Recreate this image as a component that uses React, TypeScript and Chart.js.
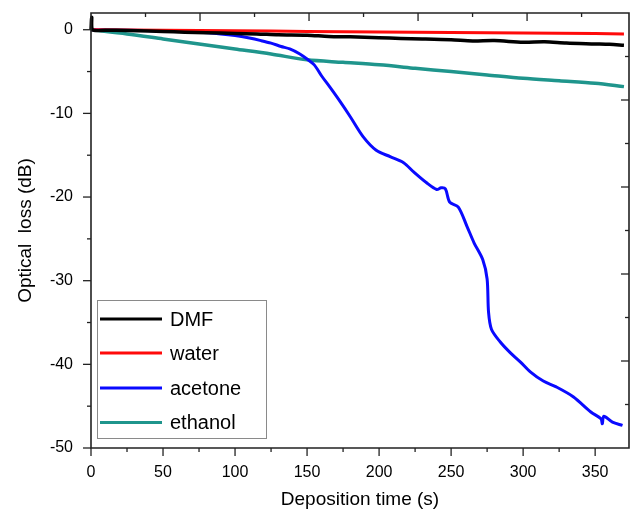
import React, { useEffect, useRef } from "react";
import { Chart, registerables } from "chart.js";

Chart.register(...registerables);

// ---- data ----
const dmfT = [0, 0.5, 1, 10, 25, 40, 50, 65, 80, 100, 115, 130, 150, 165, 180, 200, 215, 230, 250, 265, 280, 300, 315, 330, 350, 360, 370];
const dmfY = [0, 1.5, 0, -0.05, -0.1, -0.15, -0.2, -0.3, -0.35, -0.45, -0.5, -0.6, -0.65, -0.8, -0.85, -0.95, -1.05, -1.1, -1.2, -1.35, -1.3, -1.5, -1.45, -1.6, -1.7, -1.75, -1.85];

const waterT = [0, 50, 100, 150, 200, 250, 300, 350, 370];
const waterY = [0, -0.05, -0.12, -0.2, -0.27, -0.33, -0.4, -0.45, -0.5];

const acetoneT = [0, 25, 50, 75, 90, 100, 110, 118, 125, 132, 138, 145, 150, 155, 160, 166, 173, 180, 189, 198, 208, 217, 224, 233, 240, 243, 246, 249, 255, 261, 266, 272, 275, 276, 278, 284, 291, 298, 305, 314, 323, 335, 347, 354, 355, 356, 362, 369];
const acetoneY = [0, -0.05, -0.15, -0.3, -0.5, -0.7, -1.0, -1.3, -1.6, -2.0, -2.3, -2.9, -3.5, -4.2, -5.5, -6.9, -8.6, -10.4, -12.8, -14.4, -15.2, -15.9, -17.0, -18.3, -19.1, -18.9, -19.0, -20.6, -21.2, -23.5, -25.5, -27.5, -29.8, -33.8, -35.8, -37.3, -38.6, -39.7, -40.9, -42.0, -42.7, -43.9, -45.7, -46.5, -47.1, -46.2, -46.9, -47.3];

const ethanolT = [0, 25, 50, 75, 100, 125, 150, 175, 200, 225, 250, 275, 300, 325, 350, 370];
const ethanolY = [0, -0.5, -1.1, -1.7, -2.3, -2.9, -3.6, -3.9, -4.2, -4.6, -5.0, -5.4, -5.8, -6.1, -6.4, -6.8];

const seriesNames = ["DMF", "water", "acetone", "ethanol"];
const seriesColors = ["#000000", "#ff0a0a", "#0a0aff", "#1f958c"];

const xTickLabels = [0, 50, 100, 150, 200, 250, 300, 350];
const xMinorTicks = [25, 75, 125, 175, 225, 275, 325];
const yTickLabels = [0, -10, -20, -30, -40, -50];
const yMinorTicks = [-5, -15, -25, -35, -45];
const topAxisTicks = [1, 2, 3, 4, 5, 6, 7, 8, 9];
const rightAxisTicks = [1, 2, 3, 4, 5, 6, 7, 8, 9];

const FONT = "'Liberation Sans', Arial, sans-serif";

function pts(t: number[], y: number[]) {
  return t.map((v, i) => ({ x: v, y: y[i] }));
}

const zeroPad = (s: any) => {
  s.paddingLeft = 0;
  s.paddingRight = 0;
  s.paddingTop = 0;
  s.paddingBottom = 0;
};

const framePlugin = {
  id: "frame",
  afterDatasetsDraw(chart: any) {
    const { ctx } = chart;
    // legend box
    const bx = 97, by = 300, bw = 169, bh = 138;
    ctx.save();
    ctx.fillStyle = "#ffffff";
    ctx.fillRect(bx, by, bw, bh);
    ctx.strokeStyle = "#8a8a8a";
    ctx.lineWidth = 1;
    ctx.strokeRect(bx + 0.5, by + 0.5, bw, bh);
    const rowY = [319, 353, 388, 422.5];
    ctx.font = `20px ${FONT}`;
    ctx.textBaseline = "middle";
    ctx.textAlign = "left";
    seriesNames.forEach((name, i) => {
      ctx.strokeStyle = seriesColors[i];
      ctx.lineWidth = 3;
      ctx.beginPath();
      ctx.moveTo(100, rowY[i]);
      ctx.lineTo(162, rowY[i]);
      ctx.stroke();
      ctx.fillStyle = "#000";
      ctx.fillText(name, 170, rowY[i] + 1);
    });
    ctx.restore();
  },
  afterDraw(chart: any) {
    const { ctx, chartArea, scales } = chart;
    const { left, right, top, bottom } = chartArea;
    ctx.save();
    ctx.strokeStyle = "#222";
    ctx.lineWidth = 1.6;
    ctx.beginPath();
    ctx.moveTo(left, top);
    ctx.lineTo(right, top);
    ctx.lineTo(right, bottom);
    ctx.lineTo(left, bottom);
    ctx.closePath();
    ctx.stroke();
    const line = (x1: number, y1: number, x2: number, y2: number) => {
      ctx.beginPath();
      ctx.moveTo(x1, y1);
      ctx.lineTo(x2, y2);
      ctx.stroke();
    };
    ctx.lineWidth = 1.3;
    xTickLabels.forEach((v) => {
      const p = scales.x.getPixelForValue(v);
      line(p, bottom, p, bottom + 8);
    });
    xMinorTicks.forEach((v) => {
      const p = scales.x.getPixelForValue(v);
      line(p, bottom, p, bottom + 4);
    });
    yTickLabels.forEach((v) => {
      const p = scales.y.getPixelForValue(v);
      line(left, p, left - 8, p);
    });
    yMinorTicks.forEach((v) => {
      const p = scales.y.getPixelForValue(v);
      line(left, p, left - 4, p);
    });
    topAxisTicks.forEach((v) => {
      const p = scales.x2.getPixelForValue(v);
      line(p, top, p, top + (v % 2 === 0 ? 8 : 4));
    });
    rightAxisTicks.forEach((v) => {
      const p = scales.y2.getPixelForValue(v);
      line(right, p, right - (v % 2 === 0 ? 8 : 4), p);
    });
    ctx.restore();
  },
};

export default function App() {
  const ref = useRef<HTMLCanvasElement | null>(null);
  useEffect(() => {
    if (!ref.current) return;
    const chart = new Chart(ref.current, {
      type: "line",
      data: {
        datasets: [
          { label: seriesNames[0], data: pts(dmfT, dmfY), borderColor: seriesColors[0], borderWidth: 3.5 },
          { label: seriesNames[1], data: pts(waterT, waterY), borderColor: seriesColors[1], borderWidth: 3 },
          { label: seriesNames[2], data: pts(acetoneT, acetoneY), borderColor: seriesColors[2], borderWidth: 3 },
          { label: seriesNames[3], data: pts(ethanolT, ethanolY), borderColor: seriesColors[3], borderWidth: 3.5 },
        ].map((d) => ({ ...d, pointRadius: 0, tension: 0.3, fill: false, clip: false as any })),
      },
      options: {
        responsive: false,
        animation: false,
        layout: { padding: { top: 13, right: 1, left: 0, bottom: 0 } },
        plugins: { legend: { display: false }, tooltip: { enabled: false } },
        scales: {
          x: {
            type: "linear",
            position: "bottom",
            min: 0,
            max: 373.5,
            afterFit: (s: any) => { s.height = 63; zeroPad(s); },
            border: { display: false },
            grid: { display: false, drawTicks: false },
            ticks: {
              stepSize: 50,
              padding: 15,
              includeBounds: false,
              color: "#000",
              font: { size: 16, family: FONT },
              maxRotation: 0,
              autoSkip: false,
              callback: (v: any) => (xTickLabels.includes(Number(v)) ? String(v) : ""),
            },
            title: {
              display: true,
              text: "Deposition time (s)",
              color: "#000",
              font: { size: 19, family: FONT },
              padding: { top: 0, bottom: 0 },
            },
          },
          y: {
            type: "linear",
            position: "left",
            min: -50,
            max: 2,
            afterFit: (s: any) => { s.width = 91; zeroPad(s); },
            border: { display: false },
            grid: { display: false, drawTicks: false },
            ticks: {
              stepSize: 10,
              padding: 18,
              includeBounds: false,
              autoSkip: false,
              color: "#000",
              font: { size: 16, family: FONT },
              callback: (v: any) => (yTickLabels.includes(Number(v)) ? String(v) : ""),
            },
            title: {
              display: true,
              text: "Optical  loss (dB)",
              color: "#000",
              font: { size: 19, family: FONT },
              padding: { top: 14, bottom: 0 },
            },
          },
          x2: {
            type: "linear",
            position: "top",
            display: false,
            min: 0,
            max: 9.87,
          },
          y2: {
            type: "linear",
            position: "right",
            display: false,
            min: 0,
            max: 10,
            reverse: true,
          },
        },
      },
      plugins: [framePlugin],
    });
    return () => chart.destroy();
  }, []);
  return (
    <div style={{ position: "absolute", left: 0, top: 0, width: 630, height: 511, background: "#fff" }}>
      <canvas ref={ref} width={630} height={511} />
    </div>
  );
}
